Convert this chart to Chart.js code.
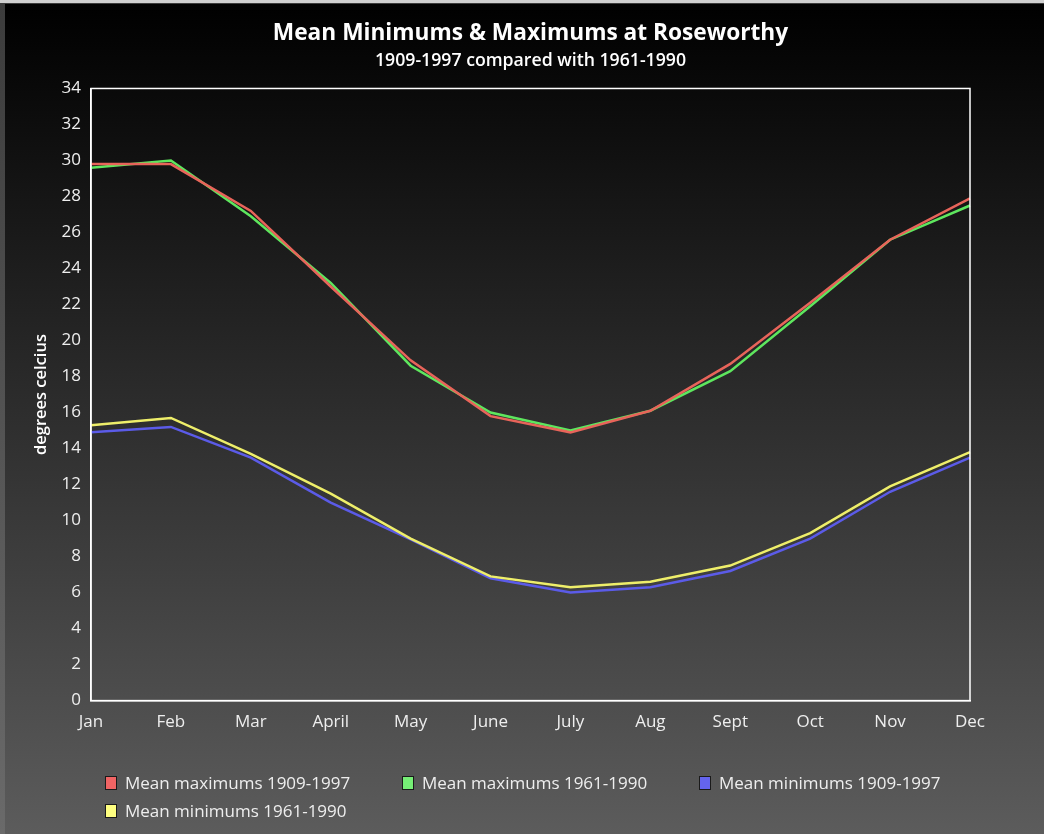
<!DOCTYPE html>
<html>
<head>
<meta charset="utf-8">
<script src="https://cdn.jsdelivr.net/npm/chart.js@4.4.1/dist/chart.umd.min.js"></script>
<style>
  html, body { margin: 0; padding: 0; }
  body {
    width: 1044px; height: 834px; overflow: hidden; position: relative;
    background: linear-gradient(to bottom, #d0d0d0 0px, #d0d0d0 3px, #3c3c3c 3px, #6a6a6a 100%);
    font-family: "Open Sans", sans-serif;
  }
  #wrap {
    position: absolute; left: 5px; top: 4px; width: 1039px; height: 830px;
    background: linear-gradient(to bottom, #000000 0%, #5c5c5c 100%);
  }
  #legend {
    position: absolute; left: 105px; top: 769px; width: 920px;
    color: #eeeeee; font-size: 17px; line-height: 28px;
  }
  .item { display: inline-block; width: 297px; white-space: nowrap; }
  .box {
    display: inline-block; width: 10px; height: 12px; border: 1px solid #1a1a1a;
    margin-right: 8px; vertical-align: -1px;
  }
</style>
</head>
<body>
<div id="wrap"><canvas id="c" width="1039" height="830"></canvas></div>
<div id="legend"></div>
<script>
const months = ["Jan","Feb","Mar","April","May","June","July","Aug","Sept","Oct","Nov","Dec"];
const max1909 = [29.8, 29.8, 27.2, 23.0, 18.9, 15.8, 14.9, 16.1, 18.7, 22.1, 25.6, 27.9];
const max1961 = [29.6, 30.0, 26.9, 23.2, 18.6, 16.0, 15.0, 16.1, 18.3, 21.9, 25.6, 27.5];
const min1909 = [14.9, 15.2, 13.5, 11.0, 8.95, 6.8, 6.0, 6.3, 7.2, 9.0, 11.6, 13.5];
const min1961 = [15.3, 15.7, 13.7, 11.5, 9.0, 6.9, 6.3, 6.6, 7.5, 9.3, 11.9, 13.8];
const seriesNames = ["Mean maximums 1909-1997","Mean maximums 1961-1990","Mean minimums 1909-1997","Mean minimums 1961-1990"];
const lineColors = ["#e8645a","#5ee65e","#5b5be8","#eeee6a"];
const boxColors = ["#f06464","#76ee76","#6464ee","#ffff80"];
const yMin = 0, yMax = 34, yStep = 2;

const legend = document.getElementById('legend');
seriesNames.forEach((n, i) => {
  const it = document.createElement('span');
  it.className = 'item';
  it.innerHTML = '<span class="box" style="background:' + boxColors[i] + '"></span>' + n;
  legend.appendChild(it);
});

const frame = {
  id: 'frame',
  afterDatasetsDraw(chart) {
    const a = chart.chartArea, ctx = chart.ctx;
    ctx.save();
    ctx.strokeStyle = '#ffffff';
    ctx.lineWidth = 1.5;
    ctx.strokeRect(a.left, a.top, a.right - a.left, a.bottom - a.top);
    ctx.restore();
  }
};

const allSeries = [max1909, max1961, min1909, min1961];
new Chart(document.getElementById('c'), {
  type: 'line',
  data: {
    labels: months,
    datasets: allSeries.map((d, i) => ({
      label: seriesNames[i],
      data: d,
      borderColor: lineColors[i],
      backgroundColor: lineColors[i],
      borderWidth: 2.5,
      pointRadius: 0,
      tension: 0,
      fill: false,
      order: i === 3 ? -1 : i
    }))
  },
  options: {
    responsive: false,
    animation: false,
    layout: { padding: { left: 16, right: 74, top: 0, bottom: 91 } },
    plugins: {
      legend: { display: false },
      tooltip: { enabled: false },
      title: {
        display: true,
        fullSize: false,
        text: 'Mean Minimums & Maximums at Roseworthy',
        color: '#ffffff',
        font: { family: 'Open Sans', size: 22.7, weight: 'bold' },
        padding: { top: 16, bottom: 3 }
      },
      subtitle: {
        display: true,
        fullSize: false,
        text: '1909-1997 compared with 1961-1990',
        color: '#ffffff',
        font: { family: 'Open Sans', size: 17.7, weight: '600' },
        padding: { top: 0, bottom: 17 }
      }
    },
    scales: {
      x: {
        grid: { display: false, drawTicks: false },
        border: { display: true, color: '#ffffff', width: 1.5 },
        ticks: { color: '#eeeeee', font: { family: 'Open Sans', size: 17 }, padding: 11, maxRotation: 0, autoSkip: false }
      },
      y: {
        min: yMin, max: yMax,
        grid: { display: false, drawTicks: false },
        border: { display: true, color: '#ffffff', width: 1.5 },
        ticks: { stepSize: yStep, color: '#eeeeee', font: { family: 'Open Sans', size: 17 }, padding: 10 },
        title: {
          display: true, text: 'degrees celcius', color: '#ffffff',
          font: { family: 'Open Sans', size: 16.5, weight: '600' },
          padding: { top: 10, bottom: 0 }
        },
        afterFit(scale) { scale.width = 70; }
      }
    }
  },
  plugins: [frame]
});
</script>
</body>
</html>
